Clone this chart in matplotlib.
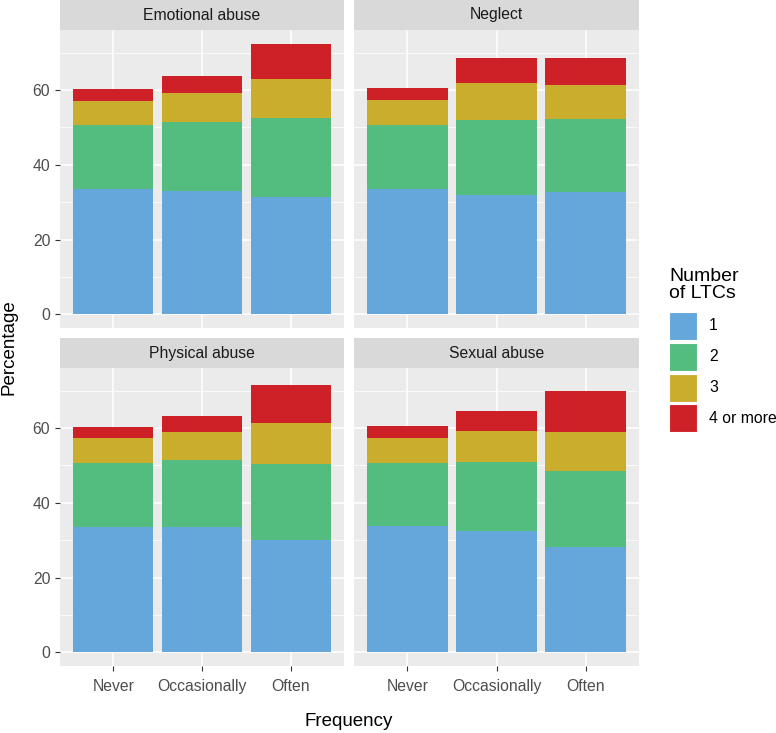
import numpy as np
import matplotlib
matplotlib.use("Agg")
import matplotlib.pyplot as plt
from matplotlib.patches import Rectangle

plt.rcParams['font.family'] = ['Liberation Sans', 'DejaVu Sans']

# data: height of each LTC layer per panel
frequency = ['Never', 'Occasionally', 'Often']
panels = ['Emotional abuse', 'Neglect', 'Physical abuse', 'Sexual abuse']
ltc_levels = ['1', '2', '3', '4 or more']
ltc_1 = {'Emotional abuse': [33.6, 33.0, 31.5],
         'Neglect': [33.5, 32.0, 32.8],
         'Physical abuse': [33.5, 33.4, 30.0],
         'Sexual abuse': [33.7, 32.4, 28.1]}
ltc_2 = {'Emotional abuse': [17.0, 18.3, 21.1],
         'Neglect': [17.1, 20.1, 19.4],
         'Physical abuse': [17.1, 18.0, 20.3],
         'Sexual abuse': [17.0, 18.4, 20.3]}
ltc_3 = {'Emotional abuse': [6.5, 7.8, 10.3],
         'Neglect': [6.6, 9.7, 9.2],
         'Physical abuse': [6.6, 7.6, 11.0],
         'Sexual abuse': [6.6, 8.4, 10.6]}
ltc_4 = {'Emotional abuse': [3.1, 4.7, 9.5],
         'Neglect': [3.3, 6.7, 7.1],
         'Physical abuse': [3.1, 4.3, 10.3],
         'Sexual abuse': [3.2, 5.2, 10.9]}

colors = ['#65a7db', '#52bd7e', '#cbad2e', '#ce2027']
layers = [ltc_1, ltc_2, ltc_3, ltc_4]

W, H = 776, 733
fig = plt.figure(figsize=(W / 100, H / 100), dpi=100)

def px_axes(x0, y0, x1, y1):
    return fig.add_axes([x0 / W, 1 - y1 / H, (x1 - x0) / W, (y1 - y0) / H])

# pixel boxes for plot areas (left, top, right, bottom)
boxes = [(60, 30, 344, 328), (354, 30, 639, 328),
         (60, 368, 344, 666), (354, 368, 639, 666)]
strip_h = 30

totals = [sum(l[p][i] for l in layers) for p in panels for i in range(3)]
ymax = max(totals)
pad = ymax * 0.05
x = np.arange(1, 4)

for k, (panel, box) in enumerate(zip(panels, boxes)):
    x0, y0, x1, y1 = box
    ax = px_axes(x0, y0, x1, y1)
    ax.set_facecolor('#ebebeb')
    bottom = np.zeros(3)
    for vals, c in zip(layers, colors):
        v = np.array(vals[panel])
        ax.bar(x, v, 0.9, bottom=bottom, color=c, zorder=3, linewidth=0)
        bottom += v
    ax.set_xlim(0.4, 3.6)
    ax.set_ylim(-pad, ymax + pad)
    ax.set_yticks([0, 20, 40, 60])
    ax.set_yticks([10, 30, 50, 70], minor=True)
    ax.set_xticks(x)
    ax.grid(which='major', color='white', linewidth=1.1, zorder=0)
    ax.grid(which='minor', axis='y', color='white', linewidth=0.55, zorder=0)
    for s in ax.spines.values():
        s.set_visible(False)
    ax.tick_params(which='minor', length=0)
    ax.tick_params(which='major', color='#333333', length=3.5, width=0.8,
                   labelcolor='#4d4d4d', labelsize=11.3)
    ax.tick_params(axis='x', pad=6)
    if k % 2 == 0:
        ax.set_yticklabels(['0', '20', '40', '60'])
    else:
        ax.tick_params(axis='y', length=0, labelleft=False)
    if k >= 2:
        ax.set_xticklabels(frequency)
    else:
        ax.tick_params(axis='x', length=0, labelbottom=False)

    sax = px_axes(x0, y0 - strip_h, x1, y0)
    sax.set_facecolor('#d9d9d9')
    sax.set_xticks([])
    sax.set_yticks([])
    for s in sax.spines.values():
        s.set_visible(False)
    sax.text(0.5, 0.5, panel, ha='center', va='center', fontsize=11.3,
             color='#1a1a1a', transform=sax.transAxes)

fig.text(349 / W, 1 - 722 / H, 'Frequency', ha='center', va='center', fontsize=13.5)
fig.text(9 / W, 1 - 347 / H, 'Percentage', ha='center', va='center',
         rotation=90, fontsize=13.5)

# legend
fig.text(669 / W, 1 - 285 / H, 'Number\nof LTCs', ha='left', va='center',
         fontsize=14, linespacing=1.0)
for i, (lab, c) in enumerate(zip(ltc_levels, colors)):
    top = 312 + i * 30.8
    fig.patches.append(Rectangle((669 / W, 1 - (top + 28) / H), 28 / W, 28 / H,
                                 transform=fig.transFigure, facecolor=c,
                                 edgecolor='white', linewidth=0.8))
    fig.text(709 / W, 1 - (top + 14) / H, lab, ha='left', va='center',
             fontsize=11.3, color='black')

fig.savefig('out.png', dpi=100, facecolor='white')
